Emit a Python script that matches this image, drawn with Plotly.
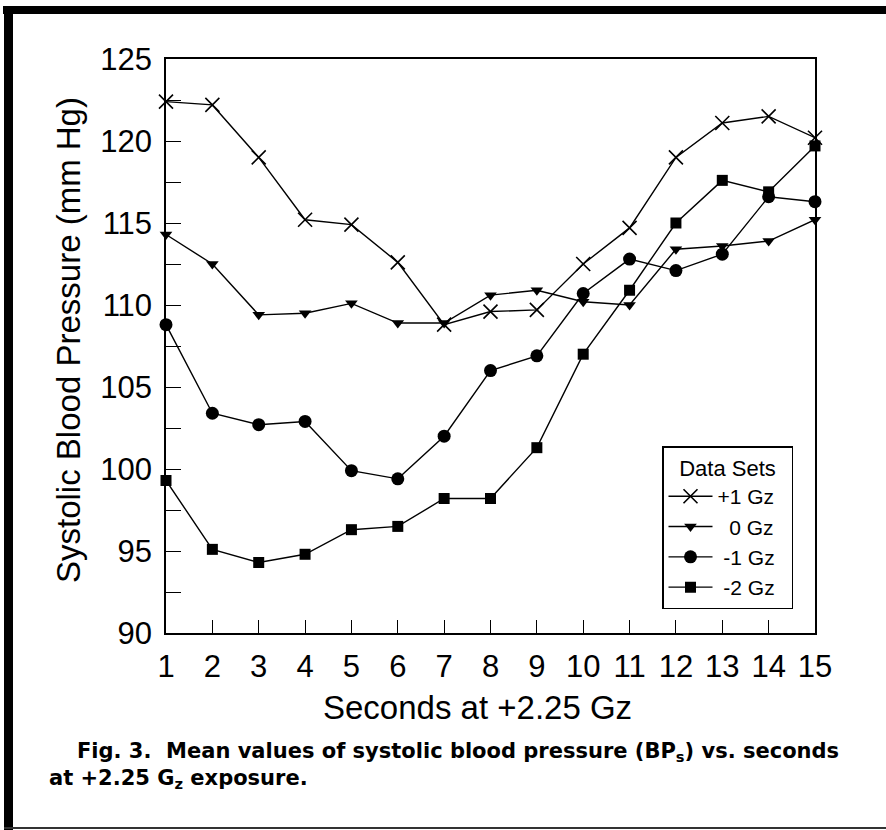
import plotly.graph_objects as go

seconds = list(range(1, 16))
gz_plus1 = [122.4, 122.2, 119.0, 115.2, 114.9, 112.6, 108.8, 109.6, 109.7, 112.5, 114.7, 119.0, 121.1, 121.5, 120.2]
gz_0 = [114.3, 112.5, 109.4, 109.5, 110.1, 108.9, 108.9, 110.6, 110.9, 110.2, 110.0, 113.4, 113.6, 113.9, 115.2]
gz_minus1 = [108.8, 103.4, 102.7, 102.9, 99.9, 99.4, 102.0, 106.0, 106.9, 110.7, 112.8, 112.1, 113.1, 116.6, 116.3]
gz_minus2 = [99.3, 95.1, 94.3, 94.8, 96.3, 96.5, 98.2, 98.2, 101.3, 107.0, 110.9, 115.0, 117.6, 116.9, 119.7]

NB = "\u00a0"
series_names = ["+1 Gz" + NB * 2, NB * 2 + "0 Gz" + NB * 2, NB + "-1 Gz" + NB * 2, NB + "-2 Gz" + NB * 2]
series_values = [gz_plus1, gz_0, gz_minus1, gz_minus2]
series_symbols = ["x-thin-open", "triangle-down", "circle", "square"]
series_sizes = [14, 11, 13, 11]

y_ticks = [90, 95, 100, 105, 110, 115, 120, 125]
x_ticks = seconds

W, H = 886, 830
L, R, T, B = 166, 71, 59, 197
PW, PH = W - L - R, H - T - B


def px_x(px):
    return (px - L) / PW


def px_y(py):
    return (H - B - py) / PH


fig = go.Figure()
for name, vals, sym, sz in zip(series_names, series_values, series_symbols, series_sizes):
    fig.add_trace(go.Scatter(
        x=seconds, y=vals, name=name, mode="lines+markers",
        line=dict(color="black", width=1.4),
        marker=dict(symbol=sym, size=sz, color="black",
                    line=dict(color="black", width=1.6 if sym == "x-thin-open" else 0)),
        cliponaxis=False,
    ))

font_main = "Liberation Sans, Arial, sans-serif"

fig.update_layout(
    width=W, height=H,
    margin=dict(l=L, r=R, t=T, b=B),
    paper_bgcolor="white", plot_bgcolor="white",
    showlegend=True,
    font=dict(family=font_main, color="black", size=31),
    legend=dict(
        x=px_x(662), y=px_y(446), xanchor="left", yanchor="top",
        bordercolor="black", borderwidth=1.5, bgcolor="white",
        title=dict(text="Data Sets", side="top center", font=dict(size=22, family=font_main)),
        font=dict(size=21, family=font_main),
        itemwidth=44, tracegroupgap=0,
    ),
    xaxis=dict(
        range=[1, 15], tickvals=x_ticks, ticktext=[str(v) for v in x_ticks],
        ticks="inside", ticklen=13, tickwidth=1.3, tickcolor="black",
        showline=True, linecolor="black", linewidth=1.5, mirror=True,
        showgrid=False, zeroline=False, ticklabelstandoff=5,
        tickfont=dict(size=31, family=font_main),
    ),
    yaxis=dict(
        range=[90, 125], tickvals=y_ticks, ticktext=[str(v) for v in y_ticks],
        ticks="inside", ticklen=15, tickwidth=1.3, tickcolor="black",
        minor=dict(dtick=2.5, ticks="inside", ticklen=15, tickwidth=1.3, tickcolor="black", tick0=90),
        showline=True, linecolor="black", linewidth=1.5, mirror=True,
        showgrid=False, zeroline=False, ticklabelstandoff=6,
        tickfont=dict(size=31, family=font_main),
    ),
    annotations=[
        dict(text="Seconds at +2.25 Gz", xref="paper", yref="paper",
             x=px_x(477), y=px_y(707), xanchor="center", yanchor="middle",
             showarrow=False, font=dict(size=33, family=font_main)),
        dict(text="Systolic Blood Pressure (mm Hg)", xref="paper", yref="paper",
             x=px_x(68), y=px_y(340), xanchor="center", yanchor="middle", textangle=-90,
             showarrow=False, font=dict(size=33, family=font_main)),
        dict(text="<b>Fig. 3.  Mean values of systolic blood pressure (BP<sub>s</sub>) vs. seconds</b>",
             xref="paper", yref="paper", x=px_x(75), y=px_y(752), xanchor="left", yanchor="middle",
             showarrow=False, font=dict(size=21, family="DejaVu Sans")),
        dict(text="<b>at +2.25 G<sub>z</sub> exposure.</b>",
             xref="paper", yref="paper", x=px_x(47), y=px_y(779), xanchor="left", yanchor="middle",
             showarrow=False, font=dict(size=21, family="DejaVu Sans")),
    ],
    shapes=[
        dict(type="rect", xref="paper", yref="paper", x0=px_x(3), x1=px_x(886), y0=px_y(6), y1=px_y(14),
             fillcolor="black", line=dict(width=0), layer="above"),
        dict(type="rect", xref="paper", yref="paper", x0=px_x(4), x1=px_x(13), y0=px_y(6), y1=px_y(830),
             fillcolor="black", line=dict(width=0), layer="above"),
        dict(type="line", xref="paper", yref="paper", x0=px_x(4), x1=px_x(886), y0=px_y(828), y1=px_y(828),
             line=dict(color="#333333", width=2), layer="above"),
    ],
)

fig.write_html("out.html")
